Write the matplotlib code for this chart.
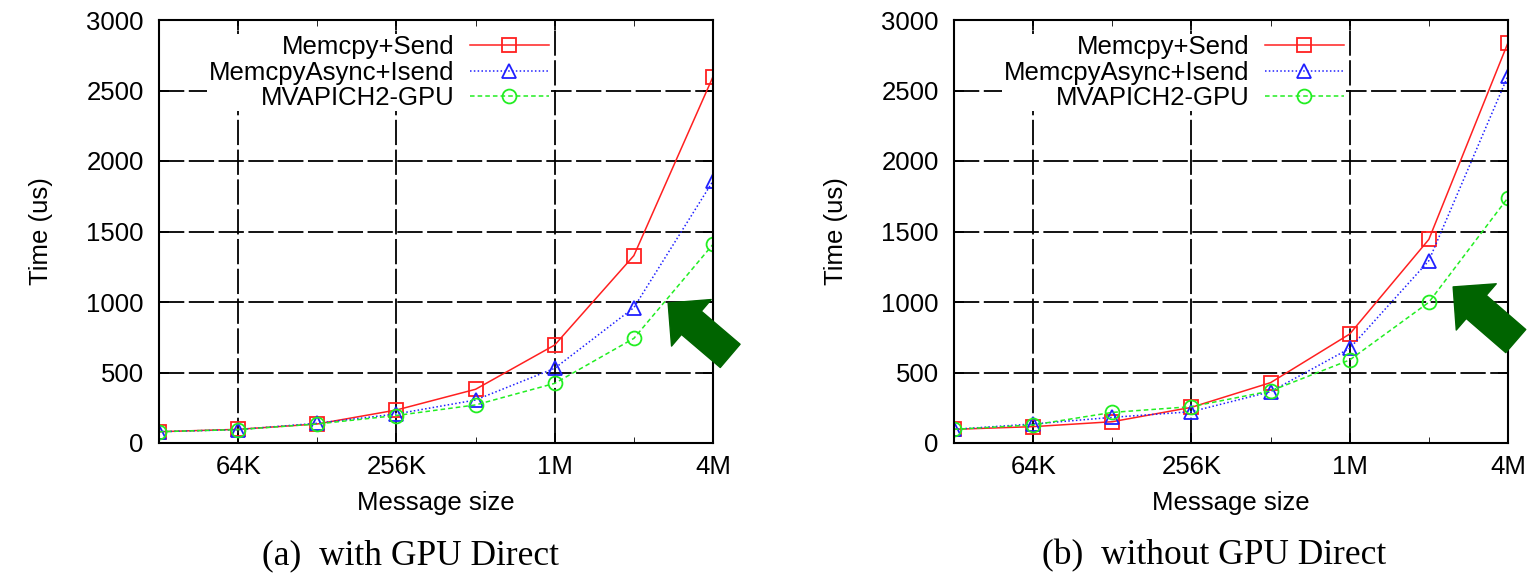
import numpy as np
import matplotlib.pyplot as plt
from matplotlib.ticker import FixedLocator, NullFormatter

plt.rcParams['font.family'] = ['Liberation Sans', 'DejaVu Sans']

# Daten
sizes_kb = np.array([32, 64, 128, 256, 512, 1024, 2048, 4096])
tick_pos = [64, 256, 1024, 4096]
tick_lab = ["64K", "256K", "1M", "4M"]

labels = ["Memcpy+Send", "MemcpyAsync+Isend", "MVAPICH2-GPU"]

# (a) with GPU Direct
a_send = [80, 97, 135, 234, 381, 695, 1329, 2598]
a_isend = [80, 95, 140, 206, 305, 530, 960, 1858]
a_gpu = [80, 95, 135, 195, 270, 423, 742, 1409]

# (b) without GPU Direct
b_send = [97, 116, 151, 253, 428, 773, 1444, 2839]
b_isend = [97, 135, 182, 222, 364, 671, 1293, 2605]
b_gpu = [97, 128, 217, 258, 369, 589, 998, 1740]

captions = ["(a)  with GPU Direct", "(b)  without GPU Direct"]

styles = [
    dict(color="#ff2020", ls="-", marker="s"),
    dict(color="#2020ff", ls=(0, (1, 1.5)), marker="^"),
    dict(color="#22ee22", ls=(0, (3, 2)), marker="o"),
]

fs = 18.5
fig = plt.figure(figsize=(15.38, 5.75), dpi=100)
W, H = 1538, 575
ax_rects = [(159, 20, 554, 423), (954, 20, 554, 423)]
caption_x = [410, 1214]
# Pfeile (Spitze, Ende) in Achsenkoordinaten
arrows = [((0.919, 0.331), (1.031, 0.206)), ((0.901, 0.369), (1.014, 0.241))]

for k, (series, rect) in enumerate(zip([(a_send, a_isend, a_gpu), (b_send, b_isend, b_gpu)], ax_rects)):
    x0, y0, w, h = rect
    ax = fig.add_axes([x0 / W, 1 - (y0 + h) / H, w / W, h / H])
    for vals, lab, st in zip(series, labels, styles):
        ax.plot(sizes_kb, vals, color=st["color"], ls=st["ls"], lw=1.1,
                marker=st["marker"], markersize=10, markerfacecolor="none",
                markeredgecolor=st["color"], markeredgewidth=1.3, label=lab)
    ax.set_xscale("log", base=2)
    ax.set_xlim(32, 4096)
    ax.set_ylim(0, 3000)
    ax.xaxis.set_major_locator(FixedLocator(tick_pos))
    ax.set_xticklabels(tick_lab)
    ax.xaxis.set_minor_locator(FixedLocator([32, 128, 512, 2048]))
    ax.xaxis.set_minor_formatter(NullFormatter())
    ax.set_yticks(np.arange(0, 3001, 500))
    ax.tick_params(direction="in", length=7, width=1.3, labelsize=fs,
                   top=True, right=True)
    ax.tick_params(axis="x", pad=9)
    ax.tick_params(axis="y", pad=11)
    ax.tick_params(which="minor", direction="in", length=4, top=True)
    ax.grid(True, which="major", color="black", lw=1.3, ls=(0, (14, 2.5)))
    ax.set_axisbelow(True)
    for s in ax.spines.values():
        s.set_linewidth(1.5)
    ax.set_xlabel("Message size", fontsize=fs, labelpad=8)
    ax.set_ylabel("Time (us)", fontsize=fs, labelpad=24)
    leg = ax.legend(loc="upper right", bbox_to_anchor=(0.73, 0.997), markerfirst=False,
                    frameon=True, fancybox=False, edgecolor="none", framealpha=1,
                    fontsize=fs, handlelength=3.1, labelspacing=0.05,
                    borderpad=0.05, handletextpad=0.6)
    leg._legend_box.align = "right"
    tip, tail = arrows[k]
    ax.annotate("", xy=tip, xytext=tail, xycoords="axes fraction",
                textcoords="axes fraction", annotation_clip=False,
                arrowprops=dict(arrowstyle="simple,head_length=1.1,head_width=2.2,tail_width=1.1",
                                color="#006400", mutation_scale=20, shrinkA=0, shrinkB=0))
    fig.text(caption_x[k] / W, 1 - 556 / H, captions[k], ha="center", va="center",
             fontsize=25.5, family=["Liberation Serif", "DejaVu Serif"])

fig.savefig("out.png", dpi=100)
